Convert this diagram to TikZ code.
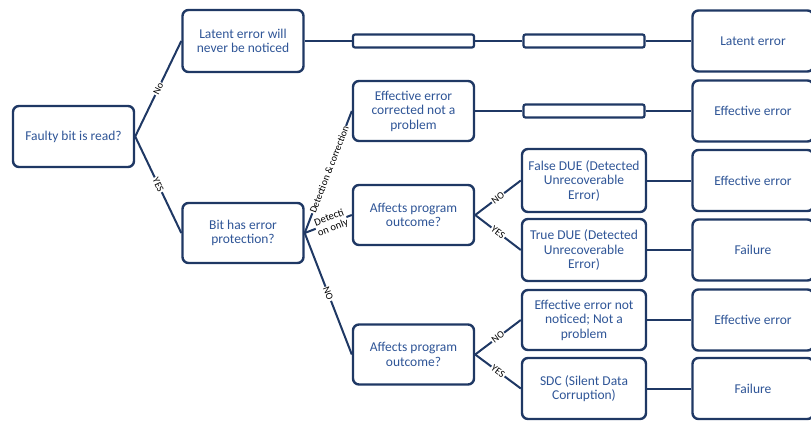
\documentclass[tikz,border=0pt]{standalone}
\usepackage{fontspec}
\setmainfont{Carlito}
\definecolor{boxline}{HTML}{1F3864}
\definecolor{boxtext}{HTML}{2F5597}
\tikzset{
  box/.style={draw=boxline, line width=2.4pt, rounded corners=6pt, fill=white,
    text=boxtext, align=center, minimum width=121pt, minimum height=61pt,
    inner sep=2pt, font=\fontsize{13.5}{14.5}\selectfont},
  bar/.style={draw=boxline, line width=2.2pt, rounded corners=2pt, fill=white,
    minimum width=121pt, minimum height=13pt, inner sep=0pt},
  link/.style={draw=boxline, line width=2pt},
  lbl/.style={sloped, fill=white, inner sep=1pt, text=black,
    font=\fontsize{10}{11}\selectfont},
}
\begin{document}
\begin{tikzpicture}[x=1pt,y=-1pt]
  \useasboundingbox (0,0) rectangle (811,421);
  % question boxes
  \node[box] (faulty) at (73.5,136.5) {Faulty bit is read?};
  \node[box, minimum height=62pt] (latentq) at (243,41) {Latent error will\\never be noticed};
  \node[box, minimum height=60pt] (protect) at (243,233) {Bit has error\\protection?};
  \node[box, minimum height=60pt] (corrected) at (413.5,111) {Effective error\\corrected not a\\problem};
  \node[box, minimum height=60pt] (affdet) at (413.5,215) {Affects program\\outcome?};
  \node[box, minimum height=60pt] (affnone) at (413.5,354.5) {Affects program\\outcome?};
  % third column
  \node[box, minimum width=124pt, minimum height=63pt] (falsedue) at (584,180.5) {False DUE (Detected\\Unrecoverable\\Error)};
  \node[box, minimum width=124pt, minimum height=62pt] (truedue) at (584,250) {True DUE (Detected\\Unrecoverable\\Error)};
  \node[box, minimum width=124pt, minimum height=60pt] (unnoticed) at (584,320) {Effective error not\\noticed; Not a\\problem};
  \node[box, minimum width=124pt] (sdc) at (584,388.5) {SDC (Silent Data\\Corruption)};
  % empty bars
  \node[bar] (barA) at (413.5,41) {};
  \node[bar] (barB) at (584,41) {};
  \node[bar] (barC) at (584,111) {};
  % outcomes
  \foreach \n/\y/\t in {resA/41/Latent error, resB/111/Effective error,
      resC/180.5/Effective error, resD/250/Failure,
      resE/320/Effective error, resF/388.5/Failure} {
    \node[box] (\n) at (753,\y) {\t};
  }
  % connectors
  \draw[link] (faulty.east) -- node[lbl] {No} (latentq.west);
  \draw[link] (faulty.east) -- node[lbl] {YES} (protect.west);
  \draw[link] (protect.east) -- node[lbl, pos=0.52, inner sep=0.5pt] {Detection \& correction} (corrected.west);
  \draw[link] (protect.east) -- node[lbl, pos=0.56, align=center, inner sep=0.5pt, font=\fontsize{10.5}{10.5}\selectfont] {Detecti\\on only} (affdet.west);
  \draw[link] (protect.east) -- node[lbl] {NO} (affnone.west);
  \draw[link] (affdet.east) -- node[lbl] {NO} (falsedue.west);
  \draw[link] (affdet.east) -- node[lbl] {YES} (truedue.west);
  \draw[link] (affnone.east) -- node[lbl] {NO} (unnoticed.west);
  \draw[link] (affnone.east) -- node[lbl] {YES} (sdc.west);
  \draw[link] (latentq) -- (barA) -- (barB) -- (resA);
  \draw[link] (corrected) -- (barC) -- (resB);
  \foreach \a/\b in {falsedue/resC, truedue/resD, unnoticed/resE, sdc/resF} {
    \draw[link] (\a) -- (\b);
  }
\end{tikzpicture}
\end{document}
